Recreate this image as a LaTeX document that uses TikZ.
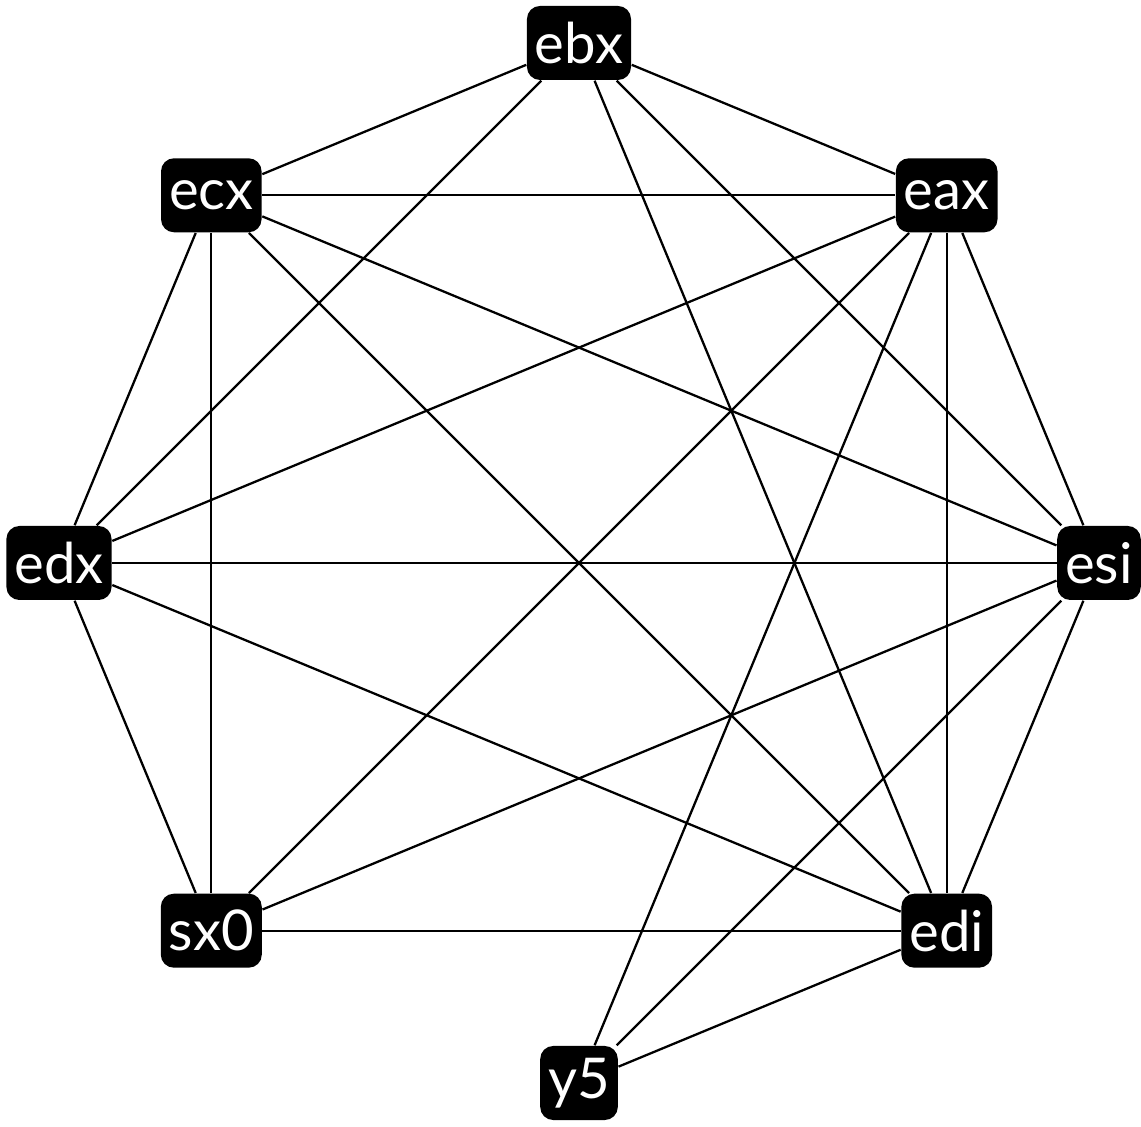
\documentclass[tikz,border=0pt]{standalone}
\usepackage{fontspec}
\setmainfont{Lato}
\begin{document}
\begin{tikzpicture}
      \tikzstyle{reg} = [rectangle, rounded corners=0.13cm, fill=black, text=white, minimum height=0.74cm, inner xsep=0.08cm, inner ysep=0.03cm, text centered, font=\fontsize{16}{19}\selectfont]
      \tikzstyle{edge} = [line width=0.65pt]

      \useasboundingbox (-5.79,-5.64) rectangle (5.62,5.63);

      \node (ebx) [reg] at (90:5.2) {ebx};
      \node (eax) [reg] at (45:5.2) {eax};
      \node (esi) [reg] at (0:5.2) {esi};
      \node (edi) [reg] at (-45:5.2) {edi};
      \node (y5) [reg] at (-90:5.2) {y5};
      \node (sx0) [reg] at (-135:5.2) {sx0};
      \node (edx) [reg] at (180:5.2) {edx};
      \node (ecx) [reg] at (135:5.2) {ecx};

      \draw [edge] (ebx) -- (ecx);
      \draw [edge] (ebx) -- (eax);
      \draw [edge] (ebx) -- (edx);
      \draw [edge] (ebx) -- (edi);
      \draw [edge] (ebx) -- (esi);

      \draw [edge] (ecx) -- (eax);
      \draw [edge] (ecx) -- (edx);
      \draw [edge] (ecx) -- (sx0);
      \draw [edge] (ecx) -- (esi);
      \draw [edge] (ecx) -- (edi);

      \draw [edge] (eax) -- (edx);
      \draw [edge] (eax) -- (sx0);
      \draw [edge] (eax) -- (y5);
      \draw [edge] (eax) -- (edi);
      \draw [edge] (eax) -- (esi);

      \draw [edge] (edx) -- (esi);
      \draw [edge] (edx) -- (sx0);
      \draw [edge] (edx) -- (edi);

      \draw [edge] (esi) -- (sx0);
      \draw [edge] (esi) -- (y5);
      \draw [edge] (esi) -- (edi);

      \draw [edge] (sx0) -- (edi);
      \draw [edge] (edi) -- (y5);
    \end{tikzpicture}
\end{document}
